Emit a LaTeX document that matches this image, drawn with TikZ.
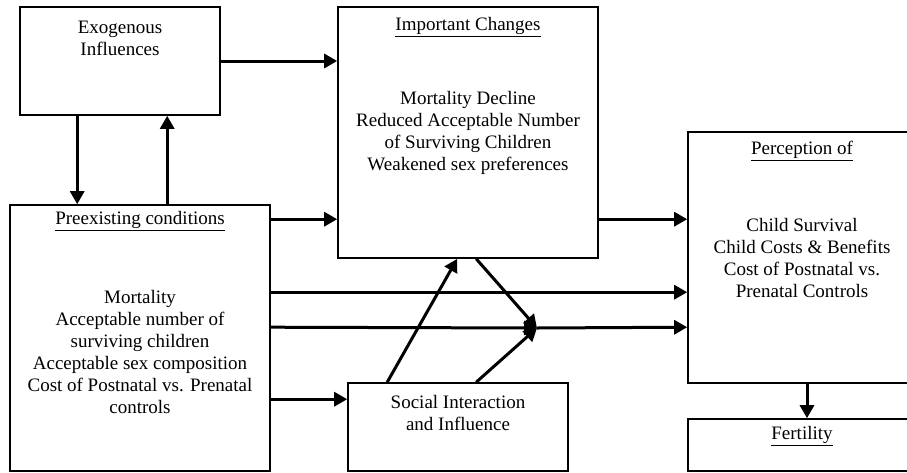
\documentclass[tikz,border=0pt]{standalone}
\usepackage{fontspec}
\setmainfont{Liberation Serif}
\usetikzlibrary{positioning,arrows.meta}
\tikzset{box/.style={draw,line width=1.6pt,inner sep=0pt},
    txt/.style={align=center,font=\fontsize{19}{22}\selectfont},
    link/.style={line width=3pt,-{Triangle[length=13pt,width=14pt]}},
    x=1pt,y=-1pt}

\begin{document}
\begin{tikzpicture}
    \useasboundingbox (0,0) rectangle (907,472);
    \clip (0,0) rectangle (907,472);
    % boxes
    \node[box,minimum width=200,minimum height=108] (exo) at (120,61) {};
    \node[box,minimum width=260,minimum height=251] (imp) at (468,132.5) {};
    \node[box,minimum width=260,minimum height=266] (pre) at (140,338) {};
    \node[box,minimum width=220,minimum height=88] (soc) at (458,427) {};
    \node[box,minimum width=228,minimum height=251] (per) at (802,257.5) {};
    \node[box,minimum width=228,minimum height=52] (fer) at (802,445) {};
    % texts
    \node[txt] (exotext) at ([yshift=-32.5pt]exo.north) {Exogenous\\Influences};
    \node[txt] (imptitle) at ([yshift=-21pt]imp.north) {\underline{Important Changes}};
    \node[txt] (imptext) at (imp.center) {Mortality Decline\\Reduced Acceptable Number\\of Surviving Children\\Weakened sex preferences};
    \node[txt] (pretitle) at ([yshift=-17pt]pre.north) {\underline{Preexisting conditions}};
    \node[txt] (pretext) at ([yshift=-14pt]pre.center) {Mortality\\Acceptable number of\\surviving children\\Acceptable sex composition\\Cost of Postnatal vs. Prenatal\\controls};
    \node[txt] (soctext) at ([yshift=-31pt]soc.north) {Social Interaction\\and Influence};
    \node[txt] (pertitle) at ([yshift=-20pt]per.north) {\underline{Perception of}};
    \node[txt] (pertext) at (per.center) {Child Survival\\Child Costs \& Benefits\\Cost of Postnatal vs.\\Prenatal Controls};
    \node[txt] (fertitle) at ([yshift=-18pt]fer.north) {\underline{Fertility}};
    % connector points
    \coordinate (down) at ([xshift=58pt]exo.south west);
    \coordinate (up) at ([xshift=148pt]exo.south west);
    \coordinate (pa) at ([yshift=-15pt]pre.north east);
    \coordinate (pb) at ([yshift=-88pt]pre.north east);
    \coordinate (pc) at ([yshift=-123pt]pre.north east);
    \coordinate (pd) at ([yshift=-195pt]pre.north east);
    \coordinate (ia) at ([xshift=120pt]imp.south west);
    \coordinate (ib) at ([xshift=139pt]imp.south west);
    \coordinate (sa) at ([xshift=40pt]soc.north west);
    \coordinate (sb) at ([xshift=129pt]soc.north west);
    \coordinate (ie) at ([yshift=-213pt]imp.north east);
    \coordinate (m) at (537,328);
    % arrows
    \draw[link] (exo.east) -- (exo.east -| imp.west);
    \draw[link] (down) -- (down |- pre.north);
    \draw[link] (up |- pre.north) -- (up);
    \draw[link] (pa) -- (pa -| imp.west);
    \draw[link] (pb) -- (pb -| per.west);
    \draw[link] (pc) -- (m);
    \draw[link] (m) -- (pc -| per.west);
    \draw[link] (pd) -- (pd -| soc.west);
    \draw[link] (sa) -- (ia);
    \draw[link] (ib) -- (m);
    \draw[link] (sb) -- (m);
    \draw[link] (ie) -- (ie -| per.west);
    \draw[link] ([xshift=5pt]per.south) -- ([xshift=5pt]fer.north);
\end{tikzpicture}
\end{document}
